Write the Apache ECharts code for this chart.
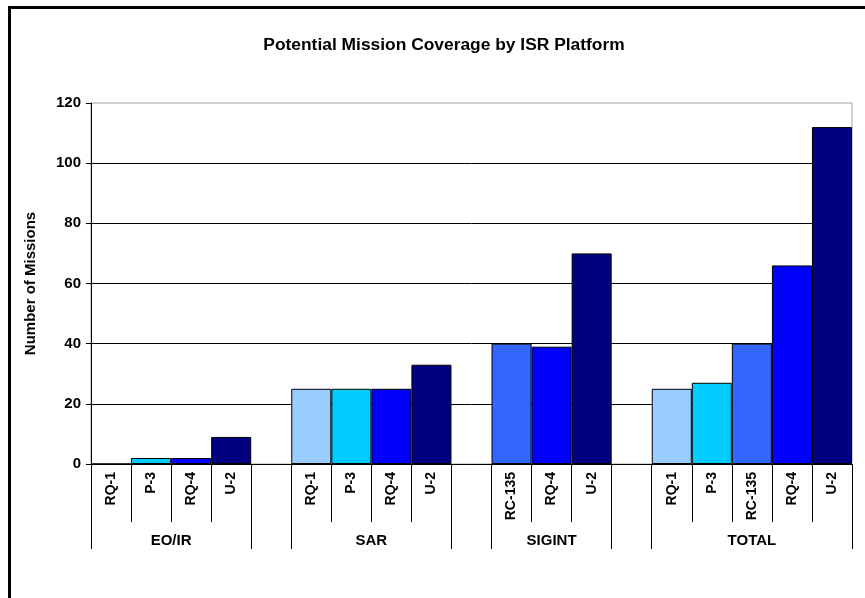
<!DOCTYPE html>
<html>
<head>
<meta charset="utf-8">
<script src="https://cdn.jsdelivr.net/npm/echarts@6/dist/echarts.min.js"></script>
<style>
    html, body { margin: 0; padding: 0; background: #fff; }
    #wrap { position: relative; width: 865px; height: 598px; }
    #chart { width: 865px; height: 598px; }
    .frame {
        position: absolute; left: 8px; top: 6px; right: -10px; bottom: -10px;
        border: 3px solid #000; pointer-events: none;
    }
</style>
</head>
<body>
<div id="wrap">
    <div id="chart"></div>
    <div class="frame"></div>
</div>
<script>
    // data
    const groups = ['EO/IR', 'SAR', 'SIGINT', 'TOTAL']
    const platforms = [
        ['RQ-1', 'P-3', 'RQ-4', 'U-2'],
        ['RQ-1', 'P-3', 'RQ-4', 'U-2'],
        ['RC-135', 'RQ-4', 'U-2'],
        ['RQ-1', 'P-3', 'RC-135', 'RQ-4', 'U-2']
    ]
    const missions = [
        [0, 2, 2, 9],
        [25, 25, 25, 33],
        [40, 39, 70],
        [25, 27, 40, 66, 112]
    ]

    const platformColors = {
        'RQ-1': '#99ccff',
        'P-3': '#00ccff',
        'RC-135': '#3366ff',
        'RQ-4': '#0000ff',
        'U-2': '#000080'
    }

    const font = 'Arial, "Liberation Sans", sans-serif'

    // flatten groups into one category axis, with an empty slot between groups
    const categories = []
    const barData = []
    const groupEdges = [0]
    const groupCenters = []
    for (let g = 0; g < groups.length; g++) {
        const start = categories.length
        for (let i = 0; i < platforms[g].length; i++) {
            categories.push(platforms[g][i])
            barData.push({
                value: missions[g][i],
                itemStyle: { color: platformColors[platforms[g][i]] }
            })
        }
        const end = categories.length
        groupCenters.push((start + end) / 2)
        if (start !== 0) groupEdges.push(start)
        groupEdges.push(end)
        if (g < groups.length - 1) {
            categories.push('')
            barData.push(null)
        }
    }

    const chart = echarts.init(document.getElementById('chart'))

    const option = {
        backgroundColor: '#fff',
        animation: false,
        title: {
            text: 'Potential Mission Coverage by ISR Platform',
            left: 439,
            textAlign: 'center',
            top: 32,
            textStyle: { fontFamily: font, fontSize: 17.4, fontWeight: 'bold', color: '#000' }
        },
        grid: {
            left: 91,
            right: 13,
            top: 103,
            bottom: 134,
            show: true,
            borderColor: '#a0a0a0',
            borderWidth: 1,
            backgroundColor: '#fff'
        },
        xAxis: [
            {
                type: 'category',
                data: categories,
                axisLine: { show: true, lineStyle: { color: '#000', width: 1 } },
                axisTick: {
                    show: true,
                    alignWithLabel: false,
                    interval: 0,
                    length: 58,
                    lineStyle: { color: '#000', width: 1 }
                },
                axisLabel: {
                    interval: 0,
                    rotate: 90,
                    margin: 8,
                    fontFamily: font,
                    fontSize: 14,
                    fontWeight: 'bold',
                    color: '#000'
                },
                splitLine: { show: false }
            },
            {
                type: 'value',
                position: 'bottom',
                offset: 58,
                min: 0,
                max: categories.length,
                axisLine: { show: false },
                axisTick: {
                    show: true,
                    length: 27,
                    customValues: groupEdges,
                    lineStyle: { color: '#000' }
                },
                axisLabel: {
                    customValues: groupCenters,
                    margin: 11,
                    fontFamily: font,
                    fontSize: 15,
                    fontWeight: 'bold',
                    color: '#000',
                    formatter: function (v) {
                        const idx = groupCenters.indexOf(v)
                        return idx >= 0 ? groups[idx] : ''
                    }
                },
                splitLine: { show: false }
            }
        ],
        yAxis: {
            type: 'value',
            min: 0,
            max: 120,
            interval: 20,
            name: 'Number of Missions',
            nameLocation: 'middle',
            nameGap: 53,
            nameTextStyle: { fontFamily: font, fontSize: 15, fontWeight: 'bold', color: '#000' },
            axisLine: { show: true, lineStyle: { color: '#000' } },
            axisTick: { show: true, length: 5, lineStyle: { color: '#000' } },
            axisLabel: { margin: 10, fontFamily: font, fontSize: 15, fontWeight: 'bold', color: '#000' },
            splitLine: { show: true, showMaxLine: false, lineStyle: { color: '#000', width: 1 } }
        },
        series: [
            {
                name: 'Missions',
                type: 'bar',
                xAxisIndex: 0,
                barWidth: '100%',
                barCategoryGap: 0,
                data: barData,
                itemStyle: { borderColor: '#000', borderWidth: 1 }
            }
        ]
    }

    chart.setOption(option)
</script>
</body>
</html>
